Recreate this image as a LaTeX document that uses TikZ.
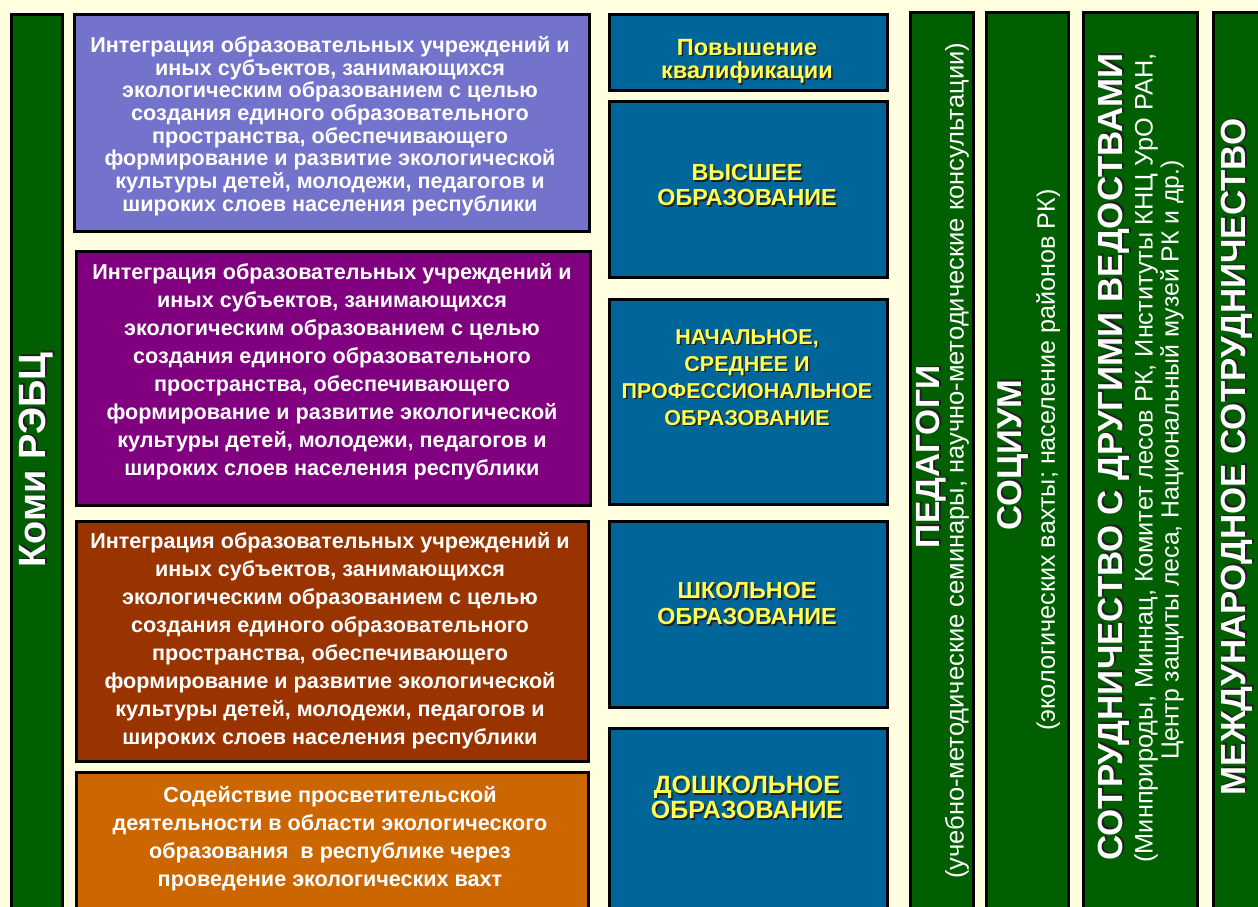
\documentclass[tikz,border=0pt]{standalone}
\usepackage{fontspec}
\setmainfont{Liberation Sans}
\definecolor{bgc}{HTML}{FFFFE0}
\definecolor{grn}{HTML}{005F00}
\definecolor{blu}{HTML}{006699}
\definecolor{lav}{HTML}{7373CC}
\definecolor{pur}{HTML}{800080}
\definecolor{brn}{HTML}{993300}
\definecolor{org}{HTML}{CC6600}
\definecolor{ylw}{HTML}{FFFF55}
\definecolor{shd}{HTML}{202020}
\newcommand\shl[1]{\rlap{\kern1.5pt\raisebox{-1.5pt}{\textcolor{shd}{#1}}}#1}
\tikzset{
  box/.style={draw=black, line width=3pt, fill=#1, rectangle, inner sep=0pt, anchor=north west},
  wtxt/.style={text=white, align=center, inner sep=0pt},
  ytxt/.style={text=ylw, align=center, inner sep=0pt},
}
\newcommand\bx[6]{% name, colour, x0, y0, x1, y1
  \pgfmathsetmacro\bw{#5-#3-3}\pgfmathsetmacro\bh{#6-#4-3}%
  \node[box=#2, minimum width=\bw pt, minimum height=\bh pt] (#1) at (#3+1.5,#4+1.5) {};}
\begin{document}
\begin{tikzpicture}[x=1pt,y=-1pt]
\useasboundingbox (0,0) rectangle (1258,907);
\clip (0,0) rectangle (1258,907);
\fill[bgc] (0,0) rectangle (1258,907);
% boxes
\bx{komi}{grn}{8}{12}{62}{915}
\bx{p1}{lav}{71}{12}{589}{231}
\bx{p2}{pur}{73}{248}{590}{505}
\bx{p3}{brn}{73}{518}{588}{761}
\bx{p4}{org}{73}{769}{588}{915}
\bx{b1}{blu}{606}{12}{887}{90}
\bx{b2}{blu}{606}{98}{887}{277}
\bx{b3}{blu}{606}{296}{887}{504}
\bx{b4}{blu}{606}{518}{887}{707}
\bx{b5}{blu}{606}{725}{887}{915}
\bx{g1}{grn}{907}{10}{973}{915}
\bx{g2}{grn}{983}{10}{1068}{915}
\bx{g3}{grn}{1080}{10}{1197}{915}
\bx{g4}{grn}{1210}{10}{1270}{915}
% left column
\node[wtxt, rotate=90, font=\bfseries\fontsize{38}{40}\selectfont] (tkomi) at (37,460) {\shl{Коми РЭБЦ}};
\node[wtxt, font=\bfseries\fontsize{21.6}{22.7}\selectfont] (tp1) at (330,126) {Интеграция образовательных учреждений и\\иных субъектов, занимающихся\\экологическим образованием с целью\\создания единого образовательного\\пространства, обеспечивающего\\формирование и развитие экологической\\культуры детей, молодежи, педагогов и\\широких слоев населения республики};
\node[wtxt, font=\bfseries\fontsize{21.6}{28}\selectfont] (tp2) at (332,372) {Интеграция образовательных учреждений и\\иных субъектов, занимающихся\\экологическим образованием с целью\\создания единого образовательного\\пространства, обеспечивающего\\формирование и развитие экологической\\культуры детей, молодежи, педагогов и\\широких слоев населения республики};
\node[wtxt, font=\bfseries\fontsize{21.6}{28}\selectfont] (tp3) at (330,641) {Интеграция образовательных учреждений и\\иных субъектов, занимающихся\\экологическим образованием с целью\\создания единого образовательного\\пространства, обеспечивающего\\формирование и развитие экологической\\культуры детей, молодежи, педагогов и\\широких слоев населения республики};
\node[wtxt, font=\bfseries\fontsize{21.6}{28}\selectfont] (tp4) at (330,838.5) {Содействие просветительской\\деятельности в области экологического\\образования\ \ в республике через\\проведение экологических вахт};
% blue column
\node[ytxt, font=\bfseries\fontsize{23.5}{23.5}\selectfont] (tb1) at (747,62) {\shl{Повышение}\\\shl{квалификации}};
\node[ytxt, font=\bfseries\fontsize{23.3}{25}\selectfont] (tb2) at (747,186) {\shl{ВЫСШЕЕ}\\\shl{ОБРАЗОВАНИЕ}};
\node[ytxt, font=\bfseries\fontsize{21.5}{27}\selectfont] (tb3) at (747,378) {\shl{НАЧАЛЬНОЕ,}\\\shl{СРЕДНЕЕ И}\\\shl{ПРОФЕССИОНАЛЬНОЕ}\\\shl{ОБРАЗОВАНИЕ}};
\node[ytxt, font=\bfseries\fontsize{23.3}{26}\selectfont] (tb4) at (747,604.5) {\shl{ШКОЛЬНОЕ}\\\shl{ОБРАЗОВАНИЕ}};
\node[ytxt, font=\bfseries\fontsize{25}{25}\selectfont] (tb5) at (747,798.5) {\shl{ДОШКОЛЬНОЕ}\\\shl{ОБРАЗОВАНИЕ}};
% right columns
\node[wtxt, rotate=90, font=\bfseries\fontsize{33.5}{34}\selectfont] (tg1a) at (932,457) {\shl{ПЕДАГОГИ}};
\node[wtxt, rotate=90, font=\fontsize{25.5}{26}\selectfont] (tg1b) at (957,461) {(учебно-методические семинары, научно-методические консультации)};
\node[wtxt, rotate=90, font=\bfseries\fontsize{34.5}{34}\selectfont] (tg2a) at (1014,455) {\shl{СОЦИУМ}};
\node[wtxt, rotate=90, font=\fontsize{25.2}{26}\selectfont] (tg2b) at (1048,460) {(экологических вахты; население районов РК)};
\node[wtxt, rotate=90, font=\bfseries\fontsize{34.9}{34}\selectfont] (tg3a) at (1115,457) {\shl{СОТРУДНИЧЕСТВО С ДРУГИМИ ВЕДОСТВАМИ}};
\node[wtxt, rotate=90, font=\fontsize{25.3}{26}\selectfont] (tg3b) at (1146,458) {(Минприроды, Миннац, Комитет лесов РК, Институты КНЦ УрО РАН,};
\node[wtxt, rotate=90, font=\fontsize{24.8}{26}\selectfont] (tg3c) at (1172,460) {Центр защиты леса, Национальный музей РК и др.)};
\node[wtxt, rotate=90, font=\bfseries\fontsize{34.9}{36}\selectfont] (tg4a) at (1238,457) {\shl{МЕЖДУНАРОДНОЕ СОТРУДНИЧЕСТВО}};
\end{tikzpicture}
\end{document}
